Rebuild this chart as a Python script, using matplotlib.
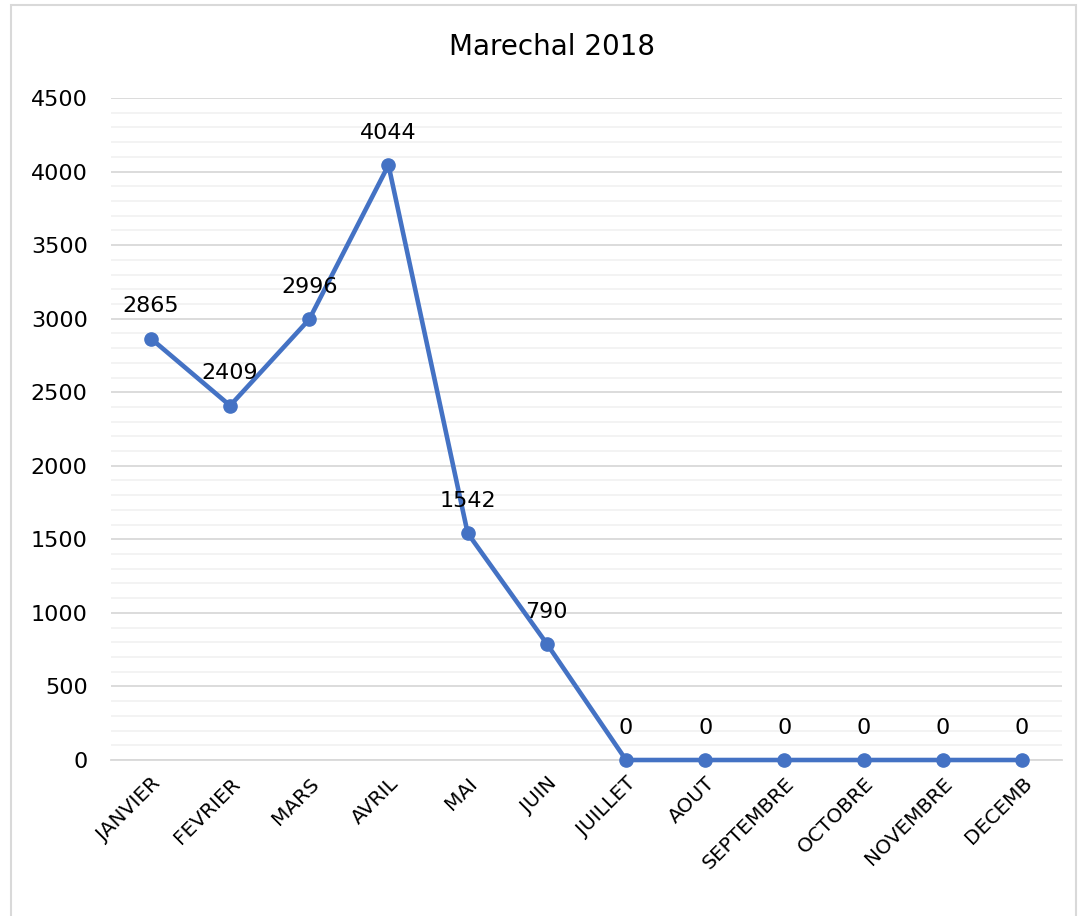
import matplotlib.pyplot as plt
from matplotlib.patches import Rectangle
from matplotlib.ticker import MultipleLocator

mois = ["JANVIER", "FEVRIER", "MARS", "AVRIL", "MAI", "JUIN", "JUILLET",
        "AOUT", "SEPTEMBRE", "OCTOBRE", "NOVEMBRE", "DECEMB"]
valeurs = [2865, 2409, 2996, 4044, 1542, 790, 0, 0, 0, 0, 0, 0]

plt.rcParams["font.family"] = ["DejaVu Sans"]

fig = plt.figure(figsize=(10.81, 9.16), dpi=100)
ax = fig.add_axes([0.103, 0.1703, 0.879, 0.7227])

# cadre gris autour du graphique
fig.patches.append(Rectangle((11 / 1081, -0.05), 1065 / 1081, 1.05 - 5 / 916,
                             transform=fig.transFigure, fill=False,
                             edgecolor="#D9D9D9", linewidth=1.5))

x = range(len(mois))
ax.plot(x, valeurs, color="#4472C4", linewidth=3.3, marker="o", markersize=9.5,
        zorder=3, clip_on=False)
for i, v in enumerate(valeurs):
    ax.annotate(str(v), (i, v), xytext=(0, 16), textcoords="offset points",
                ha="center", va="bottom", fontsize=16, color="#000000")

ax.set_xlim(-0.5, len(mois) - 0.5)
ax.set_ylim(0, 4500)
ax.yaxis.set_major_locator(MultipleLocator(500))
ax.yaxis.set_minor_locator(MultipleLocator(100))
ax.grid(which="major", axis="y", color="#D9D9D9", linewidth=1.3)
ax.grid(which="minor", axis="y", color="#F2F2F2", linewidth=1.3)
ax.set_axisbelow(True)

ax.set_xticks(list(x))
ax.set_xticklabels(mois, rotation=45, ha="right", rotation_mode="anchor", fontsize=14.5)
ax.tick_params(axis="both", which="both", length=0)
ax.tick_params(axis="y", labelsize=16, pad=17)
ax.tick_params(axis="x", pad=10)

for s in ["top", "right", "left"]:
    ax.spines[s].set_visible(False)
ax.spines["bottom"].set_color("#D9D9D9")
ax.spines["bottom"].set_linewidth(1.3)

fig.text(0.511, 1 - 47 / 916, "Marechal 2018", ha="center", va="center", fontsize=20)

fig.savefig("out.png", dpi=100)
